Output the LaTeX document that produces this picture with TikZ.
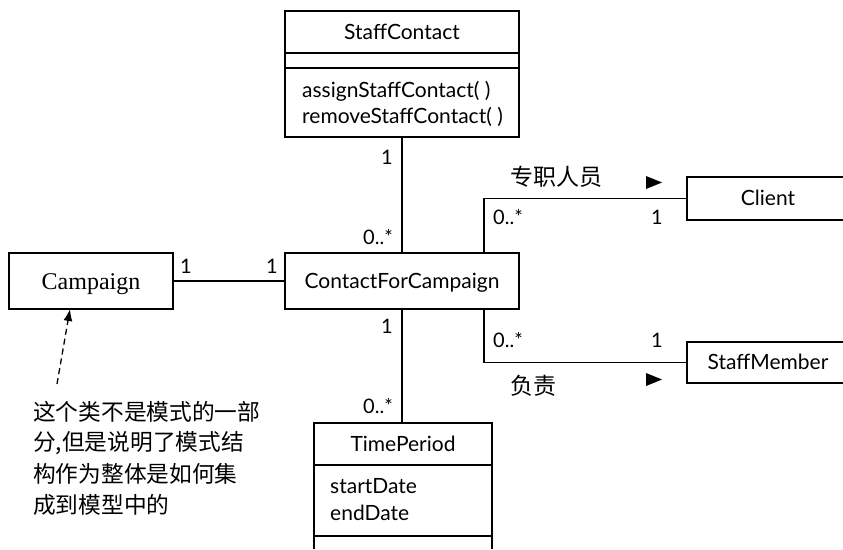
\documentclass[tikz,border=0pt]{standalone}
\usepackage{fontspec}
\setmainfont{Lato}
\newfontfamily\clsserif{Liberation Serif}
\newfontfamily\cjk{Noto Sans CJK SC}
\usetikzlibrary{arrows.meta,calc}

\tikzset{
  umlbox/.style={draw, line width=1.3pt, inner sep=0pt, outer sep=0pt, anchor=north west},
  ghost/.style={inner sep=0pt, outer sep=0pt, anchor=north west},
  edge/.style={line width=1.3pt},
  clsname/.style={font=\fontsize{21}{24}\selectfont, inner sep=0pt, anchor=base},
  member/.style={font=\fontsize{21}{24}\selectfont, inner sep=0pt, anchor=base west},
  mult/.style={font=\fontsize{20}{22}\selectfont, inner sep=0pt},
  assoc/.style={line width=1.3pt},
  rolename/.style={font=\cjk\fontsize{23}{25}\selectfont, inner sep=0pt},
  readdir/.style={fill=black},
  noteline/.style={font=\cjk\fontsize{22.7}{31}\selectfont, inner sep=0pt, anchor=west},
}

\begin{document}
\begin{tikzpicture}[x=1pt,y=-1pt]
\useasboundingbox (0,0) rectangle (843,549);

% StaffContact class with an empty attribute compartment
\node[umlbox, minimum width=234pt, minimum height=126pt] (sc) at (285,11) {};
\draw[edge] (285,53) -- (519,53) (285,68) -- (519,68);
\node[clsname] (scname) at (402,39) {StaffContact};
\node[member] (scop1) at (302,97) {assignStaffContact( )};
\node[member] (scop2) at (302,123) {removeStaffContact( )};

% ContactForCampaign
\node[umlbox, minimum width=234pt, minimum height=56pt] (cfc) at (285,253) {};
\node[clsname] (cfcname) at (402,288) {ContactForCampaign};

% Campaign
\node[umlbox, minimum width=164pt, minimum height=56pt] (camp) at (9,253) {};
\node[clsname, font=\clsserif\fontsize{24}{26}\selectfont] (campname) at (91,289) {Campaign};

% Client and StaffMember run past the right edge
\node[ghost, minimum width=170pt, minimum height=43pt] (client) at (687,177) {};
\draw[edge] (client.north east) -- (client.north west) -- (client.south west) -- (client.south east);
\node[clsname] (clientname) at (768,205) {Client};

\node[ghost, minimum width=170pt, minimum height=41pt] (sm) at (687,342) {};
\draw[edge] (sm.north east) -- (sm.north west) -- (sm.south west) -- (sm.south east);
\node[clsname] (smname) at (768,369) {StaffMember};

% TimePeriod runs past the bottom edge
\node[ghost, minimum width=178pt, minimum height=126pt] (tp) at (314,423) {};
\draw[edge] (tp.south west) -- (tp.north west) -- (tp.north east) -- (tp.south east);
\draw[edge] (314,465) -- (492,465) (314,536) -- (492,536);
\node[clsname] (tpname) at (403,451) {TimePeriod};
\node[member] (tpat1) at (330,493) {startDate};
\node[member] (tpat2) at (330,520) {endDate};

% associations
\draw[assoc] (sc.south) -- (cfc.north);
\draw[assoc] (camp.east) -- (cfc.west);
\draw[assoc] (cfc.south) -- (tp.north -| cfc.south);
\coordinate (upfork) at ($(cfc.north west)+(199,0)$);
\coordinate (lowfork) at ($(cfc.south west)+(199,0)$);
\draw[assoc] (upfork) |- (client.west);
\draw[assoc] (lowfork) |- (sm.west);

% multiplicities
\node[mult] (m1) at (387,157) {1};
\node[mult] (m2) at (378,237) {0..*};
\node[mult] (m3) at (186,266) {1};
\node[mult] (m4) at (272,266) {1};
\node[mult] (m5) at (387,326) {1};
\node[mult] (m6) at (378,406) {0..*};
\node[mult] (m7) at (508,217) {0..*};
\node[mult] (m8) at (657,217) {1};
\node[mult] (m9) at (508,340) {0..*};
\node[mult] (m10) at (657,340) {1};

% association names with reading direction
\node[rolename] (r1) at (556,177) {专职人员};
\node[rolename] (r2) at (533,386) {负责};
\fill[readdir] (646,176) -- (662,182.5) -- (646,189) -- cycle;
\fill[readdir] (646,373) -- (662,379.5) -- (646,386) -- cycle;

% note pointing at Campaign
\node[noteline] (n1) at (33,412) {这个类不是模式的一部};
\node[noteline] (n2) at (33,443) {分,但是说明了模式结};
\node[noteline] (n3) at (33,474) {构作为整体是如何集};
\node[noteline] (n4) at (33,505) {成到模型中的};
\coordinate (notetail) at (57,384);
\draw[dashed, line width=1.3pt, dash pattern=on 6pt off 4pt, -{Latex[length=12pt,width=9pt]}] (notetail) -- ([xshift=-21pt]camp.south);
\end{tikzpicture}
\end{document}
